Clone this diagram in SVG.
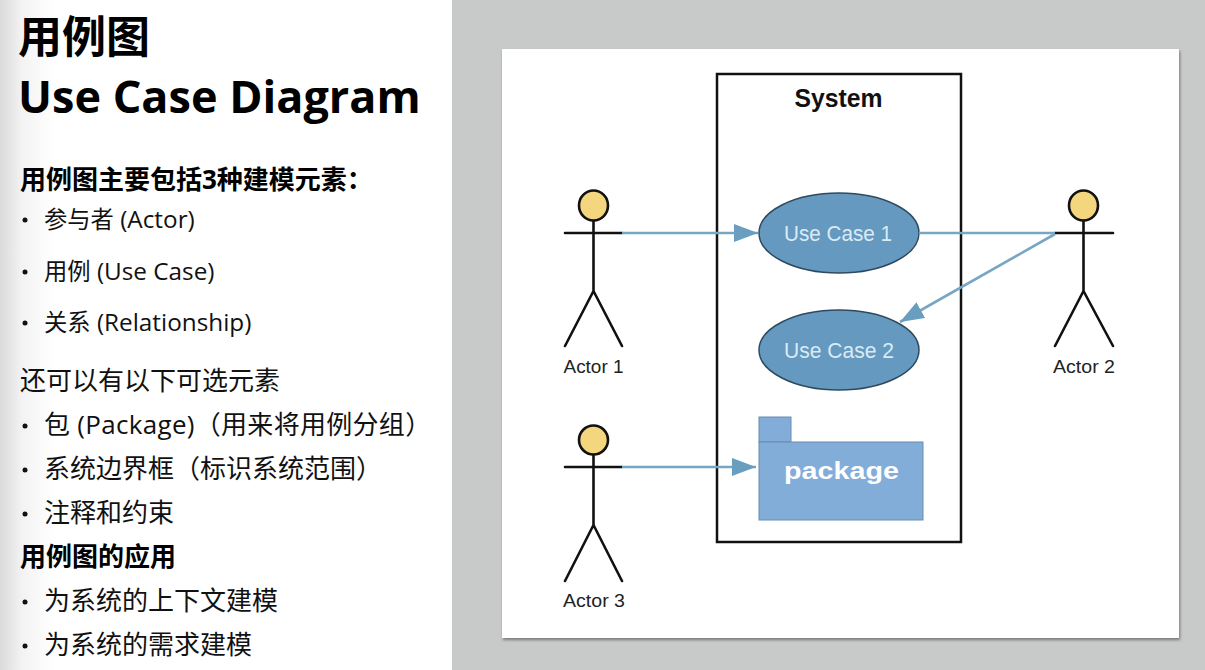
<svg xmlns="http://www.w3.org/2000/svg" width="1205" height="670" viewBox="0 0 1205 670">
<style>
.t{font-family:"Open Sans","Noto Sans CJK SC",sans-serif;fill:#111;font-size:26px}
.h{font-weight:700;fill:#000}
.m{font-size:23.3px}
.l{font-size:24.3px}
.lim{stroke:#111;stroke-width:2.6;fill:none;stroke-linecap:round}
.head{fill:#f3d67e;stroke:#111;stroke-width:2.6}
.lab{font-family:"Liberation Sans",Arial,sans-serif;font-size:18px;fill:#222;text-anchor:middle}
.uc{fill:#6599bf;stroke:#2d4a60;stroke-width:1.5}
.uct{font-family:"Liberation Sans",Arial,sans-serif;font-size:22px;fill:#d9ebf5;text-anchor:middle}
.c{stroke:#77a6c3;stroke-width:2.6;fill:none}
</style>
<defs>
<linearGradient id="g" x1="0" x2="1" y1="0" y2="0"><stop offset="0" stop-color="#dadada"/><stop offset="0.4" stop-color="#f3f3f3"/><stop offset="1" stop-color="#fff"/></linearGradient>
<filter id="sh" x="-2%" y="-2%" width="104%" height="104%"><feDropShadow dx="1" dy="2" stdDeviation="1.5" flood-color="#555" flood-opacity="0.7"/></filter>
<marker id="a" markerUnits="userSpaceOnUse" markerWidth="26" markerHeight="20" refX="24" refY="9" orient="auto"><path d="M0 0L24 9L0 18z" fill="#6a9ebf"/></marker>
</defs>
<rect width="1205" height="670" fill="#fff"/>
<rect width="55" height="670" fill="url(#g)"/>
<rect x="452" width="753" height="670" fill="#c8cac9"/>
<rect x="502" y="49" width="677" height="589" fill="#fff" filter="url(#sh)"/>
<g id="text">
<text class="t h" x="18" y="53" style="font-size:44px">用例图</text>
<text class="t h" x="18" y="113" style="font-size:45px">Use Case Diagram</text>
<text class="t h" x="20" y="189">用例图主要包括3种建模元素：</text>
<text class="t m" x="44" y="228">参与者<tspan class="l"> (Actor)</tspan></text>
<text class="t m" x="44" y="280">用例<tspan class="l"> (Use Case)</tspan></text>
<text class="t m" x="44" y="331">关系<tspan class="l"> (Relationship)</tspan></text>
<text class="t" x="20" y="390">还可以有以下可选元素</text>
<text class="t" x="44" y="434" style="letter-spacing:.3px">包 (Package)（用来将用例分组）</text>
<text class="t" x="44" y="478">系统边界框（标识系统范围）</text>
<text class="t" x="44" y="522">注释和约束</text>
<text class="t h" x="20" y="566">用例图的应用</text>
<text class="t" x="44" y="610">为系统的上下文建模</text>
<text class="t" x="44" y="654">为系统的需求建模</text>
<g fill="#111">
<circle cx="25" cy="220" r="2.5"/><circle cx="25" cy="272" r="2.5"/><circle cx="25" cy="323" r="2.5"/><circle cx="25" cy="426" r="2.5"/><circle cx="25" cy="470" r="2.5"/><circle cx="25" cy="514" r="2.5"/><circle cx="25" cy="602" r="2.5"/><circle cx="25" cy="646" r="2.5"/>
</g>
</g>
<g id="system"><rect x="717" y="74" width="244" height="468" fill="none" stroke="#111" stroke-width="2.500"/>
<text x="838.500" y="107" text-anchor="middle" font-family="Liberation Sans,Arial,sans-serif" font-weight="700" font-size="25" textLength="88" lengthAdjust="spacingAndGlyphs" fill="#111">System</text></g>
<g id="actor1"><ellipse class="head" cx="593.500" cy="205.500" rx="14.500" ry="15"/><path class="lim" d="M593.500 221V291M565 233H622M593.500 291L565 346M593.500 291L622 346"/><text class="lab" x="593.500" y="373" textLength="60" lengthAdjust="spacingAndGlyphs">Actor 1</text></g>
<g id="actor2"><ellipse class="head" cx="1083.500" cy="205.500" rx="14.500" ry="15"/><path class="lim" d="M1083.500 221V291M1055 233H1113M1083.500 291L1055 346M1083.500 291L1113 346"/><text class="lab" x="1084" y="373" textLength="62" lengthAdjust="spacingAndGlyphs">Actor 2</text></g>
<g id="actor3"><circle class="head" cx="593.500" cy="440" r="14.500"/><path class="lim" d="M593.500 455V525M565 467H622M593.500 525L565 581M593.500 525L622 581"/><text class="lab" x="594" y="607" textLength="62" lengthAdjust="spacingAndGlyphs">Actor 3</text></g>
<g id="usecase1"><ellipse class="uc" cx="839" cy="233" rx="80" ry="40"/><text class="uct" x="838" y="241" textLength="108" lengthAdjust="spacingAndGlyphs">Use Case 1</text></g>
<g id="usecase2"><ellipse class="uc" cx="839" cy="350" rx="80" ry="40"/><text class="uct" x="839" y="358" textLength="110" lengthAdjust="spacingAndGlyphs">Use Case 2</text></g>
<g id="package"><rect x="759" y="417" width="32" height="25" fill="#83add9" stroke="#6a8cae"/><rect x="759" y="442" width="164" height="78" fill="#83add9" stroke="#6a8cae"/><text x="841.500" y="479" text-anchor="middle" font-family="Liberation Sans,Arial,sans-serif" font-weight="700" font-size="23" textLength="115" lengthAdjust="spacingAndGlyphs" fill="#fff">package</text></g>
<g id="connectors">
<line class="c" x1="622" y1="233" x2="758" y2="233" marker-end="url(#a)"/>
<line class="c" x1="919" y1="233" x2="1055" y2="233"/>
<line class="c" x1="1055" y1="234" x2="900" y2="322" marker-end="url(#a)"/>
<line class="c" x1="622" y1="467" x2="756" y2="467" marker-end="url(#a)"/>
</g>
</svg>
